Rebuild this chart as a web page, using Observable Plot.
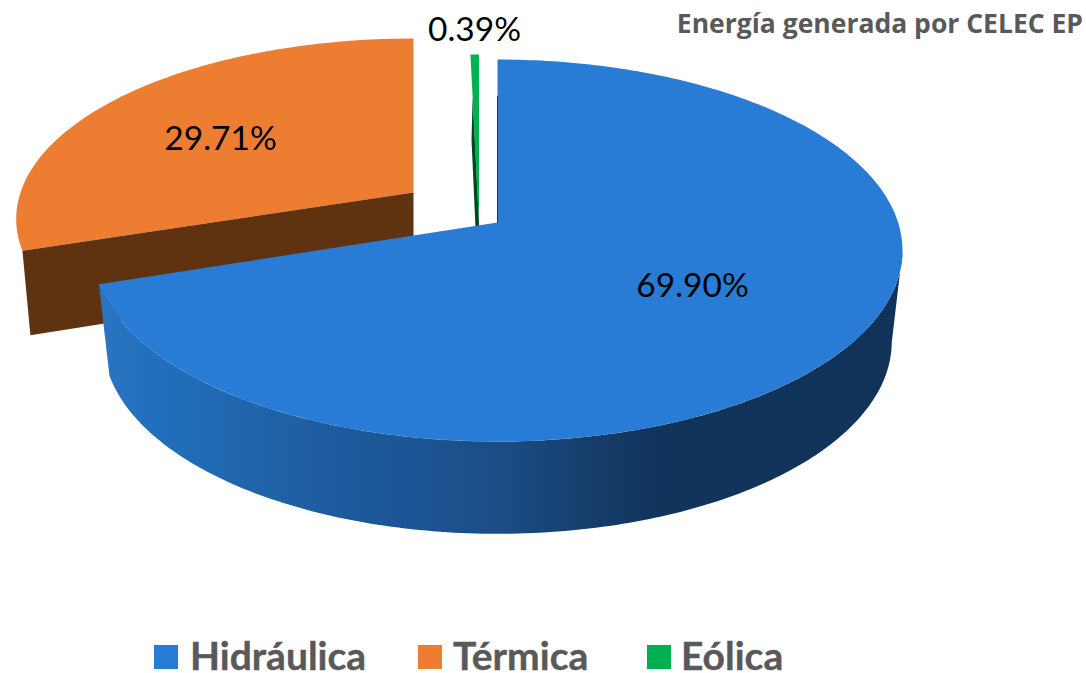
<!DOCTYPE html>
<html lang="es">
<head>
<meta charset="utf-8">
<script src="https://cdn.jsdelivr.net/npm/d3@7"></script>
<script src="https://cdn.jsdelivr.net/npm/@observablehq/plot@0.6"></script>
<style>
  html, body { margin: 0; background: #fff; }
  #wrap { position: relative; width: 1086px; height: 673px; overflow: hidden; }
  #title { position: absolute; right: 3px; top: 10px; font: 700 26.5px/1 "Open Sans", sans-serif; color: #595959; z-index: 2; white-space: nowrap; }
  #legend { position: absolute; left: 0; top: 630px; width: 1086px; height: 43px; font: 700 39px/36px Lato, sans-serif; color: #595959; -webkit-text-stroke: 0.4px #595959; }
  #legend i { position: absolute; top: 15px; width: 24px; height: 24px; }
  #legend b { position: absolute; top: 7px; white-space: nowrap; font-weight: 700; }
  svg { display: block; }
</style>
</head>
<body>
<div id="wrap">
  <div id="title"></div>
  <div id="chart"></div>
  <div id="legend"></div>
</div>
<script>
const titleText = "Energía generada por CELEC EP";
const categories = ["Hidráulica", "Térmica", "Eólica"];
const shares = [69.90, 29.71, 0.39];
const colors = ["#287cd6", "#ed7d31", "#00b050"];
const wallColors = ["#1a4f88", "#5f3210", "#00471f"];

const W = 1086, H = 630;
const k = 0.1466; // perspective of the tilted disc

// Projected point on a disc: a = share of the turn, from the top, clockwise
function rim(disc, pct, f = 1) {
  const a = pct / 100 * 2 * Math.PI;
  const u = Math.sin(a) * f, v = -Math.cos(a) * f;
  const s = 1 / (1 - k * v);
  return {x: disc.cx + disc.rx * u * s, y: disc.cy + disc.ry * v * s};
}
function arc(disc, from, to) {
  const n = Math.max(2, Math.ceil(Math.abs(to - from) * 4)), out = [];
  for (let i = 0; i <= n; ++i) out.push(rim(disc, from + (to - from) * i / n));
  return out;
}
const apex = d => ({x: d.cx, y: d.cy});

const blueTop = {cx: 497, cy: 222, rx: 400.6, ry: 186.9};
const blueBot = {cx: 497, cy: 313, rx: 390, ry: 188};
const orangeTop = {cx: 413, cy: 192, rx: 393, ry: 176.6};
const orangeBot = {cx: 413, cy: 274, rx: 385, ry: 184};
const greenTop = {cx: 478.5, cy: 223, rx: 400, ry: 193.8};
const greenBot = {cx: 478.5, cy: 305, rx: 350, ry: 190};

const blueEnd = shares[0];
const orangeEnd = shares[0] + shares[1] + shares[2]; // the orange face closes the turn on screen
const greenStart = shares[0] + shares[1];
const sideStart = 27.4; // where the wall turns out of sight on the right

const blueFace = [apex(blueTop), ...arc(blueTop, 0, blueEnd)];
const blueSide = [...arc(blueTop, sideStart, blueEnd), ...arc(blueBot, blueEnd, sideStart)];
const orangeFace = [apex(orangeTop), ...arc(orangeTop, blueEnd, orangeEnd)];
const orangeWall = [apex(orangeTop), rim(orangeTop, blueEnd), rim(orangeBot, blueEnd), apex(orangeBot)];
const greenFace = [apex(greenTop), ...arc(greenTop, greenStart, 100)];
const greenWall = [apex(greenTop), rim(greenTop, greenStart, 0.72), rim(greenBot, greenStart), apex(greenBot)];
const blueEdge = [rim(blueTop, 0, 0.75), apex(blueTop)];

const labels = [
  {text: shares[0], x: 692, y: 286, size: 33.5},
  {text: shares[1], x: 220, y: 139, size: 33.5},
  {text: shares[2], x: 474, y: 29.5, size: 33.5}
];
const legendLeft = [[154, 190], [418, 453], [647, 681]];

const gradient = () => {
  const ns = "http://www.w3.org/2000/svg";
  const defs = document.createElementNS(ns, "defs");
  const g = document.createElementNS(ns, "linearGradient");
  g.setAttribute("id", "sideGrad");
  g.setAttribute("gradientUnits", "userSpaceOnUse");
  g.setAttribute("x1", 105); g.setAttribute("x2", 900);
  g.setAttribute("y1", 0); g.setAttribute("y2", 0);
  [[0, "#2a74c0"], [0.057, "#2270bd"], [0.245, "#1f5fa3"], [0.37, "#1c5596"], [0.5, "#1b4d85"], [0.62, "#153c69"], [0.7, "#11345b"], [1, "#11335a"]]
    .forEach(([o, c]) => {
      const s = document.createElementNS(ns, "stop");
      s.setAttribute("offset", o); s.setAttribute("stop-color", c);
      g.appendChild(s);
    });
  defs.appendChild(g);
  return defs;
};

const face = (pts, fill) => Plot.line(pts, {x: "x", y: "y", fill, stroke: "none"});

const chart = Plot.plot({
  width: W, height: H,
  margin: 0,
  x: {domain: [0, W], range: [0, W], axis: null},
  y: {domain: [0, H], range: [0, H], axis: null},
  marks: [
    gradient,
    face(orangeFace, colors[1]),
    face(orangeWall, wallColors[1]),
    face(greenFace, colors[2]),
    face(greenWall, wallColors[2]),
    face(blueSide, "url(#sideGrad)"),
    face(blueFace, colors[0]),
    Plot.line(blueEdge, {x: "x", y: "y", stroke: "#123a66", strokeWidth: 1}),
    Plot.text(labels, {
      x: "x", y: "y",
      text: d => d3.format(".2f")(d.text) + "%",
      fontSize: d => d.size,
      fontFamily: "Lato, sans-serif",
      fill: "#000",
      textAnchor: "middle",
      lineAnchor: "middle"
    })
  ]
});
document.getElementById("chart").appendChild(chart);
document.getElementById("title").textContent = titleText;

const legend = document.getElementById("legend");
categories.forEach((c, i) => {
  const sw = document.createElement("i");
  sw.style.background = colors[i];
  sw.style.left = legendLeft[i][0] + "px";
  const t = document.createElement("b");
  t.style.left = legendLeft[i][1] + "px";
  t.textContent = c;
  legend.appendChild(sw);
  legend.appendChild(t);
});
</script>
</body>
</html>
